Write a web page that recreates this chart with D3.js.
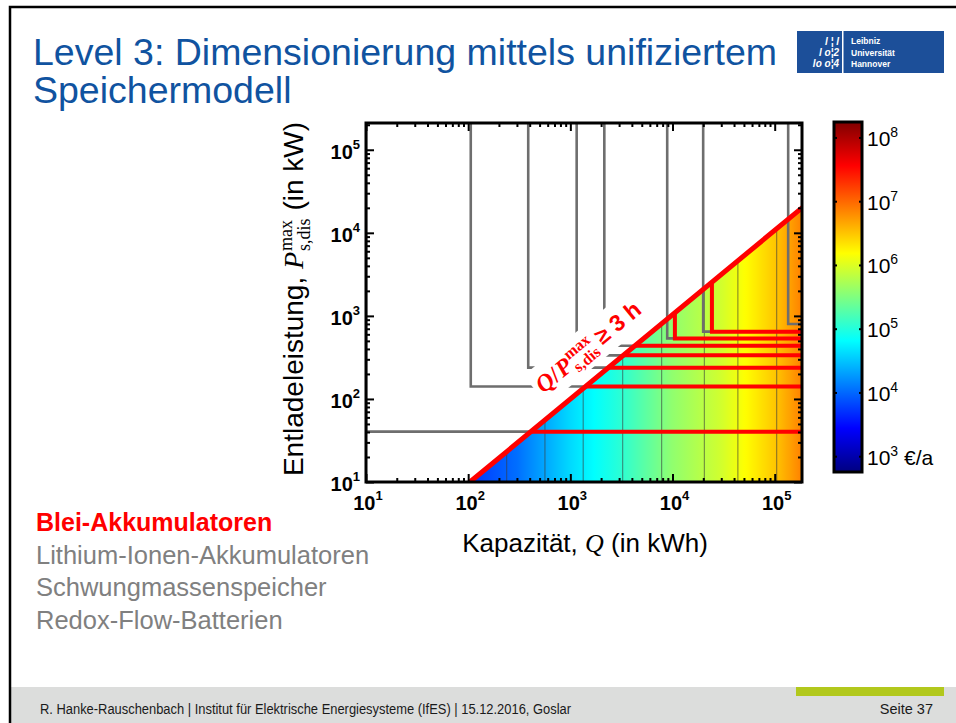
<!DOCTYPE html>
<html>
<head>
<meta charset="utf-8">
<script src="https://cdn.jsdelivr.net/npm/d3@7"></script>
<style>
  body { margin: 0; background: #fff; }
  svg { display: block; font-family: "Liberation Sans", Arial, sans-serif; }
  text { white-space: pre; }
</style>
</head>
<body>
<svg id="slide" width="956" height="723"></svg>
<script>
// ---------- data ----------
const capacityRange = [10, 1.85e5];      // Q axis extent (kWh)
const powerRange = [10, 2.1e5];          // P axis extent (kW)
const xTickExps = [1, 2, 3, 4, 5];
const yTickExps = [1, 2, 3, 4, 5];
const costTickExps = [3, 4, 5, 6, 7, 8];
const costRange = [Math.pow(10, 2.76), Math.pow(10, 8.25)]; // colour bar extent (€/a)

// Q / P_max >= 3 h boundary (end points)
const boundaryQ = [104, 1.85e5];
const boundaryP = [10, 2.0e4];

// annual cost along the capacity axis (log10 €/a)
const costQ = [100, 300, 1000, 3000, 1e4, 3e4, 1e5, 1.85e5];
const costLog = [3.72, 4.04, 4.62, 5.03, 5.6, 5.95, 6.49, 6.87];

// iso-cost lines inside the feasible region
const isoQ = [238, 564, 1336, 3250, 7820, 20500, 43600, 104500];

// L-shaped contours (corner capacity / power)
const contourQ = [10, 106, 387, 1153, 2150, 8870, 19950, 135500];
const contourP = [40.4, 141, 238, 335, 437, 536, 646, 797];

// feasible parts of the contours (lead-acid)
const feasibleQ = [10, 106, 387, 1153, 2150, 10550, 24300];
const feasibleP = [40.4, 141, 238, 335, 437, 536, 646];

const technologies = ["Blei-Akkumulatoren", "Lithium-Ionen-Akkumulatoren", "Schwungmassenspeicher", "Redox-Flow-Batterien"];
const activeTech = "Blei-Akkumulatoren";

// ---------- helpers ----------
const SANS = '"Liberation Sans", Arial, sans-serif';
const SERIF = '"Liberation Serif", "Times New Roman", serif';
const clamp01 = v => Math.max(0, Math.min(1, v));
function jet(t) {
  const r = clamp01(1.5 - Math.abs(4 * t - 3));
  const g = clamp01(1.5 - Math.abs(4 * t - 2));
  const b = clamp01(1.5 - Math.abs(4 * t - 1));
  return d3.rgb(r * 255, g * 255, b * 255).formatHex();
}
// append a run of text and return its advance width
function run(g, x, y, str, o) {
  const t = g.append("text").attr("x", x).attr("y", y).text(str)
    .attr("font-family", o.family || SANS)
    .attr("font-size", o.size)
    .attr("font-weight", o.weight || "normal")
    .attr("font-style", o.style || "normal")
    .attr("fill", o.fill || "#000");
  return t.node().getComputedTextLength();
}

const svg = d3.select("#slide");
const defs = svg.append("defs");

// ---------- slide frame and footer ----------
svg.append("rect").attr("x", 10).attr("y", 687).attr("width", 946).attr("height", 36).attr("fill", "#dcdddc");
svg.append("rect").attr("x", 796).attr("y", 687).attr("width", 148).attr("height", 9).attr("fill", "#b2c81c");
svg.append("path").attr("d", "M10,723V7H956").attr("fill", "none").attr("stroke", "#000").attr("stroke-width", 2.5);
svg.append("text").attr("x", 40).attr("y", 714).attr("font-size", 14).attr("fill", "#1a1a1a")
  .attr("textLength", 531).attr("lengthAdjust", "spacingAndGlyphs")
  .text("R. Hanke-Rauschenbach | Institut für Elektrische Energiesysteme (IfES) | 15.12.2016, Goslar");
svg.append("text").attr("x", 933).attr("y", 714).attr("font-size", 14.5).attr("fill", "#1a1a1a")
  .attr("text-anchor", "end").text("Seite 37");

// ---------- title and logo ----------
svg.append("text").attr("x", 33).attr("y", 65).attr("font-size", 37.5).attr("fill", "#1053a0")
  .text("Level 3: Dimensionierung mittels unifiziertem");
svg.append("text").attr("x", 33).attr("y", 103).attr("font-size", 37.5).attr("fill", "#1053a0")
  .text("Speichermodell");

const logo = svg.append("g");
logo.append("rect").attr("x", 797).attr("y", 31).attr("width", 147).attr("height", 42).attr("fill", "#1c4f99");
logo.append("rect").attr("x", 842).attr("y", 31).attr("width", 1.5).attr("height", 42).attr("fill", "#fff");
[["l ¦ l", 45], ["l o¦2", 56], ["lo o¦4", 67]].forEach(([s, yy]) =>
  logo.append("text").attr("x", 839).attr("y", yy).attr("text-anchor", "end")
    .attr("font-size", 10).attr("font-style", "italic").attr("font-weight", "bold").attr("fill", "#fff").text(s));
[["Leibniz", 44], ["Universität", 55.5], ["Hannover", 66.5]].forEach(([s, yy]) =>
  logo.append("text").attr("x", 851).attr("y", yy).attr("font-size", 8.5).attr("font-weight", "bold")
    .attr("fill", "#fff").text(s));

// ---------- main plot ----------
const x = d3.scaleLog().domain(capacityRange).range([366, 802]);
const y = d3.scaleLog().domain(powerRange).range([482, 123]);
const [x0, x1] = x.range();
const [y0, y1] = y.range();

defs.append("clipPath").attr("id", "plotClip").append("rect")
  .attr("x", x0).attr("y", y1).attr("width", x1 - x0).attr("height", y0 - y1);

const feasiblePoly = [
  [x(boundaryQ[0]), y(boundaryP[0])],
  [x(boundaryQ[1]), y(boundaryP[1])],
  [x(capacityRange[1]), y(powerRange[0])]
];
defs.append("clipPath").attr("id", "feasibleClip").append("polygon")
  .attr("points", feasiblePoly.map(p => p.join(",")).join(" "));

// colour scale: log10 cost -> [0,1] -> jet
const costT = d3.scaleLinear().domain([Math.log10(costRange[0]), Math.log10(costRange[1])]).range([0, 1]);
const costAtQ = d3.scaleLinear().domain(costQ.map(Math.log10)).range(costLog).clamp(true);

const heatGrad = defs.append("linearGradient").attr("id", "heatGrad")
  .attr("gradientUnits", "userSpaceOnUse")
  .attr("x1", x0).attr("x2", x1).attr("y1", 0).attr("y2", 0);
d3.range(x0, x1 + 0.1, 3).forEach(px => {
  const q = x.invert(px);
  heatGrad.append("stop")
    .attr("offset", (px - x0) / (x1 - x0))
    .attr("stop-color", jet(costT(costAtQ(Math.log10(q)))));
});

const plot = svg.append("g").attr("clip-path", "url(#plotClip)");

// cost field in the feasible region
const heat = plot.append("g").attr("clip-path", "url(#feasibleClip)");
heat.append("rect").attr("x", x0).attr("y", y1).attr("width", x1 - x0).attr("height", y0 - y1)
  .attr("fill", "url(#heatGrad)");
heat.selectAll("line.iso").data(isoQ).join("line").attr("class", "iso")
  .attr("x1", d => x(d)).attr("x2", d => x(d)).attr("y1", y0).attr("y2", y1)
  .attr("stroke", "#3a3a3a").attr("stroke-opacity", 0.55).attr("stroke-width", 1.2);

// L-shaped contours
const lPath = (q, p) => `M${x(q)},${y1}V${y(p)}H${x1 + 5}`;
plot.append("g").selectAll("path").data(contourQ.map((q, i) => [q, contourP[i]])).join("path")
  .attr("d", d => lPath(d[0], d[1]))
  .attr("fill", "none").attr("stroke", "#6e6e6e").attr("stroke-width", 2.6);

plot.append("g").attr("clip-path", "url(#feasibleClip)")
  .selectAll("path").data(feasibleQ.map((q, i) => [q, feasibleP[i]])).join("path")
  .attr("d", d => lPath(d[0], d[1]))
  .attr("fill", "none").attr("stroke", "#ff0000").attr("stroke-width", 4);

// boundary label layers
const labelBg = plot.append("g");
plot.append("line")
  .attr("x1", x(boundaryQ[0])).attr("y1", y(boundaryP[0]))
  .attr("x2", x(boundaryQ[1])).attr("y2", y(boundaryP[1]))
  .attr("stroke", "#ff0000").attr("stroke-width", 5).attr("stroke-linecap", "round");
const angle = Math.atan2(y(boundaryP[1]) - y(boundaryP[0]), x(boundaryQ[1]) - x(boundaryQ[0])) * 180 / Math.PI;

// anchor the label on the boundary line
const labelQ = 740;
const t0 = (Math.log10(labelQ) - Math.log10(boundaryQ[0])) / (Math.log10(boundaryQ[1]) - Math.log10(boundaryQ[0]));
const labelP = Math.pow(10, Math.log10(boundaryP[0]) + t0 * (Math.log10(boundaryP[1]) - Math.log10(boundaryP[0])));
const labelTransform = `translate(${x(labelQ)},${y(labelP)}) rotate(${angle})`;
const lab = plot.append("g").attr("transform", labelTransform);
{
  const base = -21, red = "#ff0000";
  let cx = 0;
  cx += run(lab, cx, base, "Q", { family: SERIF, size: 24, weight: "bold", style: "italic", fill: red });
  cx += run(lab, cx, base, "/", { family: SERIF, size: 24, weight: "bold", fill: red }) + 1;
  cx += run(lab, cx, base, "P", { family: SERIF, size: 24, weight: "bold", style: "italic", fill: red }) + 1;
  const w1 = run(lab, cx, base - 10, "max", { family: SERIF, size: 16, weight: "bold", fill: red });
  const w2 = run(lab, cx, base + 6, "s,dis", { family: SERIF, size: 16, weight: "bold", fill: red });
  cx += Math.max(w1, w2) + 6;
  run(lab, cx, base, "≥ 3 h", { family: SANS, size: 23, weight: "bold", fill: red });
}
const bb = lab.node().getBBox();
labelBg.attr("transform", labelTransform).append("rect")
  .attr("x", bb.x - 4).attr("y", bb.y - 3).attr("width", bb.width + 8).attr("height", bb.height + 5)
  .attr("fill", "#fff");

// axes: ticks inside on all four sides
function minorTicks(domain) {
  const out = [];
  for (let e = Math.floor(Math.log10(domain[0])); e <= Math.ceil(Math.log10(domain[1])); e++)
    for (let m = 2; m <= 9; m++) {
      const v = m * Math.pow(10, e);
      if (v > domain[0] && v < domain[1]) out.push(v);
    }
  return out;
}
const xMajor = xTickExps.map(e => Math.pow(10, e));
const yMajor = yTickExps.map(e => Math.pow(10, e));
const xMinor = minorTicks(capacityRange);
const yMinor = minorTicks(powerRange);

function drawAxis(axisFn, scale, values, size, tx, ty) {
  const g = svg.append("g").attr("transform", `translate(${tx},${ty})`)
    .call(axisFn(scale).tickValues(values).tickSize(-size).tickFormat(""));
  g.select(".domain").remove();
  g.selectAll(".tick line").attr("stroke", "#000").attr("stroke-width", 2);
}
[[xMajor, 8], [xMinor, 4]].forEach(([v, s]) => {
  drawAxis(d3.axisBottom, x, v, s, 0, y0);
  drawAxis(d3.axisTop, x, v, s, 0, y1);
});
[[yMajor, 8], [yMinor, 4]].forEach(([v, s]) => {
  drawAxis(d3.axisLeft, y, v, s, x0, 0);
  drawAxis(d3.axisRight, y, v, s, x1, 0);
});
svg.append("rect").attr("x", x0).attr("y", y1).attr("width", x1 - x0).attr("height", y0 - y1)
  .attr("fill", "none").attr("stroke", "#000").attr("stroke-width", 3);

// tick labels
xTickExps.forEach(e => {
  const t = svg.append("text").attr("x", x(Math.pow(10, e)) + 2).attr("y", 510)
    .attr("text-anchor", "middle").attr("font-weight", "bold").attr("font-size", 20);
  t.append("tspan").text("10");
  t.append("tspan").attr("dy", -10).attr("font-size", 13).text(e);
});
yTickExps.forEach(e => {
  const t = svg.append("text").attr("x", 360).attr("y", y(Math.pow(10, e)) + 9)
    .attr("text-anchor", "end").attr("font-weight", "bold").attr("font-size", 20);
  t.append("tspan").text("10");
  t.append("tspan").attr("dy", -10).attr("font-size", 13).text(e);
});

// axis titles
{
  const g = svg.append("g").attr("transform", "translate(303,299) rotate(-90)");
  const parts = g.append("g");
  let cx = 0;
  cx += run(parts, cx, 0, "Entladeleistung, ", { size: 28 });
  cx += run(parts, cx, 0, "P", { family: SERIF, size: 28, style: "italic" }) + 1;
  const w1 = run(parts, cx, -11, "max", { family: SERIF, size: 18 });
  const w2 = run(parts, cx, 7, "s,dis", { family: SERIF, size: 18 });
  cx += Math.max(w1, w2);
  cx += run(parts, cx, 0, " (in kW)", { size: 28 });
  parts.attr("transform", `translate(${-cx / 2},0)`);
}
{
  const t = svg.append("text").attr("x", 585).attr("y", 552).attr("text-anchor", "middle").attr("font-size", 26);
  t.append("tspan").text("Kapazität, ");
  t.append("tspan").attr("font-family", SERIF).attr("font-style", "italic").text("Q");
  t.append("tspan").text(" (in kWh)");
}

// ---------- colour bar ----------
const cb = d3.scaleLog().domain(costRange).range([472, 122]);
const cbX = 834, cbW = 28;
const cbGrad = defs.append("linearGradient").attr("id", "cbGrad")
  .attr("x1", 0).attr("y1", 1).attr("x2", 0).attr("y2", 0);
[0, 0.125, 0.375, 0.625, 0.875, 1].forEach(t =>
  cbGrad.append("stop").attr("offset", t).attr("stop-color", jet(t)));
svg.append("rect").attr("x", cbX).attr("y", cb.range()[1]).attr("width", cbW)
  .attr("height", cb.range()[0] - cb.range()[1]).attr("fill", "url(#cbGrad)")
  .attr("stroke", "#000").attr("stroke-width", 3);
costTickExps.forEach(e => {
  const yy = cb(Math.pow(10, e));
  svg.append("line").attr("x1", cbX).attr("x2", cbX + 3).attr("y1", yy).attr("y2", yy)
    .attr("stroke", "#000").attr("stroke-width", 2);
  svg.append("line").attr("x1", cbX + cbW - 3).attr("x2", cbX + cbW).attr("y1", yy).attr("y2", yy)
    .attr("stroke", "#000").attr("stroke-width", 2);
  const t = svg.append("text").attr("x", 867).attr("y", yy + 8).attr("font-size", 21);
  t.append("tspan").text("10");
  t.append("tspan").attr("dy", -9).attr("font-size", 14).text(e);
  if (e === costTickExps[0]) t.append("tspan").attr("dy", 9).text(" €/a");
});

// ---------- technology list ----------
technologies.forEach((name, i) => {
  const active = name === activeTech;
  svg.append("text").attr("x", 36).attr("y", 531 + i * 32.5)
    .attr("font-size", active ? 25 : 25.5)
    .attr("font-weight", active ? "bold" : "normal")
    .attr("fill", active ? "#ff0000" : "#808080")
    .text(name);
});
</script>
</body>
</html>
